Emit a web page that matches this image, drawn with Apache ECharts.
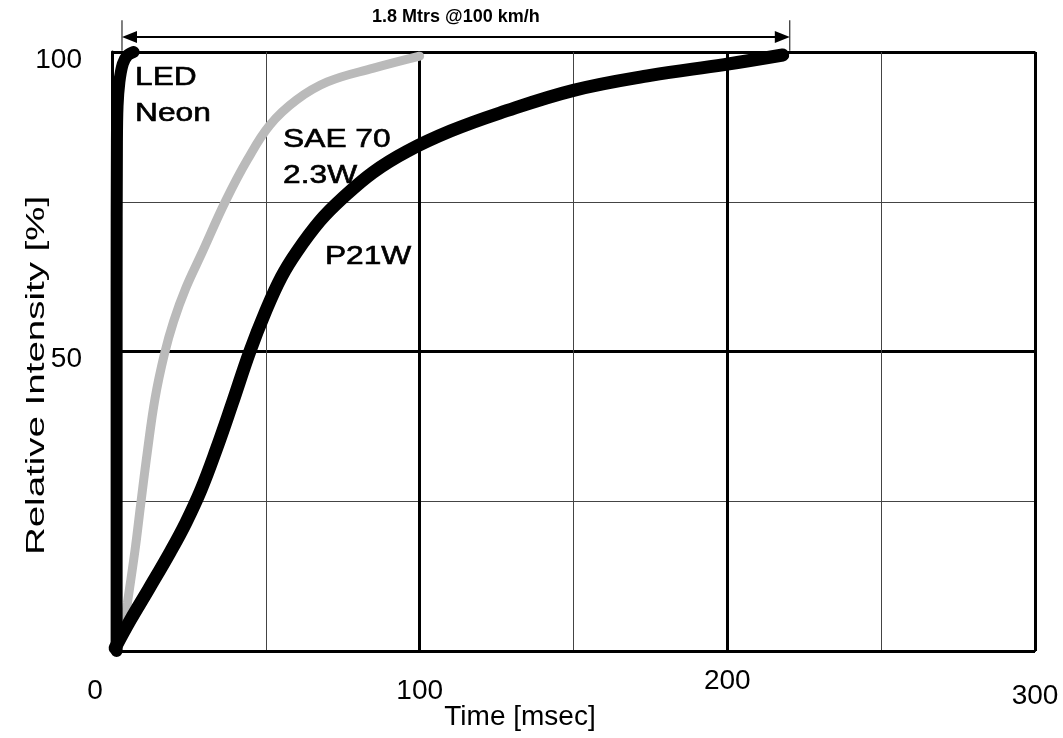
<!DOCTYPE html>
<html>
<head>
<meta charset="utf-8">
<title>Relative Intensity vs Time</title>
<script src="https://cdn.jsdelivr.net/npm/echarts@6/dist/echarts.min.js"></script>
<style>
html, body { margin: 0; padding: 0; background: #fff; }
#main { width: 1063px; height: 738px; }
</style>
</head>
<body>
<div id="main"></div>
<script>
// curves, [time ms, relative intensity %]
var ledNeon = [[1.5,0],[1.5,30],[1.5,60],[1.6,85],[1.8,91],[2.4,95],[3.5,98],[5,99.4],[7,100]];
var sae70 = [[3.5,3],[5,8],[7.5,16.9],[9.3,24.4],[11.5,33.3],[14,42.2],[17,49.5],[20,55],[24,60.6],[29,66.2],[37,75.2],[44,82],[51.3,87.8],[60,92],[70,95],[85,97.3],[100,99.3]];
var p21w = [[1,0.5],[6,5.2],[12,10.4],[19,16.6],[24,21.4],[29,27],[34,33.8],[39,41.2],[44.8,50],[50,56.8],[55,62.4],[60,66.6],[67.6,71.8],[74.7,75.5],[84.8,79.9],[95.8,83.4],[110,86.8],[126,89.8],[150,93.6],[175,96.1],[199,97.9],[218,99.5]];

var xTickLabels = ['0', '100', '200', '300'];
var yTickLabels = ['50', '100'];
var arrowSpan = [3.25, 220.3];   // ms
var arrowText = '1.8 Mtrs @100 km/h';

var FONT = 'Liberation Sans, Arial, sans-serif';

var chart = echarts.init(document.getElementById('main'));

function xLabel(v) {
	var s = String(v);
	if(xTickLabels.indexOf(s) == -1) return '';
	return '{l' + s + '|' + s + '}';
}

function yLabel(v) {
	var s = String(v);
	return yTickLabels.indexOf(s) == -1 ? '' : '{y|' + s + '}';
}

function tickStyle(pad) {
	return { fontSize: 28, fontFamily: FONT, color: '#000', padding: pad };
}

var option = {
	backgroundColor: '#fff',
	animation: false,
	grid: {
		left: 112, right: 28, top: 52, bottom: 87,
		outerBoundsMode: 'none',
		show: true,
		borderColor: '#333',
		borderWidth: 1.5
	},
	xAxis: [{
		type: 'value', min: 0, max: 300, interval: 50,
		name: 'Time [msec]',
		nameLocation: 'middle',
		nameGap: 52,
		nameMoveOverlap: false,
		nameTextStyle: { color: '#000', fontSize: 28, fontFamily: FONT, padding: [0, 107, 0, 0] },
		axisLine: { show: true, lineStyle: { color: '#000', width: 2 } },
		axisTick: { show: false },
		axisLabel: {
			margin: 13,
			formatter: xLabel,
			rich: {
				l0: tickStyle([13, 34, 0, 0]),
				l100: tickStyle([13, 0, 0, 0]),
				l200: tickStyle([3, 0, 0, 0]),
				l300: tickStyle([18, 0, 0, 0])
			}
		},
		splitLine: { show: true, lineStyle: { color: '#444', width: 1 } }
	}, {
		type: 'value', min: 0, max: 300, interval: 100,
		position: 'top',
		axisLine: { show: false },
		axisTick: { show: false },
		axisLabel: { show: false },
		splitLine: { show: true, lineStyle: { color: '#000', width: 3 } }
	}],
	yAxis: [{
		type: 'value', min: 0, max: 100, interval: 25,
		axisLine: { show: true, lineStyle: { color: '#000', width: 3 } },
		axisTick: { show: false },
		axisLabel: {
			margin: 30,
			formatter: yLabel,
			rich: {
				y: tickStyle([16, 0, 0, 0])
			}
		},
		splitLine: { show: true, lineStyle: { color: '#444', width: 1 } }
	}, {
		type: 'value', min: 0, max: 100, interval: 50,
		position: 'right',
		axisLine: { show: false },
		axisTick: { show: false },
		axisLabel: { show: false },
		splitLine: { show: true, lineStyle: { color: '#000', width: 3 } }
	}],
	series: [{
		name: 'SAE 70 2.3W',
		type: 'line',
		data: sae70,
		smooth: 0.4,
		showSymbol: false,
		lineStyle: { color: '#bababa', width: 9, cap: 'round' },
		z: 3
	}, {
		name: 'P21W',
		type: 'line',
		data: p21w,
		smooth: 0.4,
		showSymbol: false,
		lineStyle: { color: '#000', width: 13, cap: 'round' },
		z: 4
	}, {
		name: 'LED Neon',
		type: 'line',
		data: ledNeon,
		smooth: 0.3,
		showSymbol: false,
		lineStyle: { color: '#000', width: 12, cap: 'round', join: 'round' },
		z: 5
	}]
};
chart.setOption(option);

// labels and the span arrow, placed through the chart's own scales
function px(x, y) {
	return chart.convertToPixel({ xAxisIndex: 0, yAxisIndex: 0 }, [x, y]);
}

var curveLabels = [
	{ text: 'LED\nNeon', at: [7.5, 98.7] },
	{ text: 'SAE 70\n2.3W', at: [55.6, 88.3] },
	{ text: 'P21W', at: [69.2, 68.8] }
];

var graphics = [];
curveLabels.forEach(function(l) {
	var p = px(l.at[0], l.at[1]);
	graphics.push({
		type: 'text', x: p[0], y: p[1], z: 10, scaleX: 1.22,
		style: { text: l.text, fontSize: 26, fontFamily: FONT, fill: '#000', stroke: '#000', lineWidth: 0.6, lineHeight: 36, verticalAlign: 'top', align: 'left' }
	});
});

// y axis title, stretched along its length like the scanned original
var yMid = px(0, 46)[1];
graphics.push({
	type: 'text', x: 37, y: yMid, rotation: Math.PI / 2, scaleX: 1.48,
	style: { text: 'Relative Intensity [%]', fontSize: 26, fontFamily: FONT, fill: '#000', align: 'center', verticalAlign: 'middle' }
});

var a0 = px(arrowSpan[0], 102.5);
var a1 = px(arrowSpan[1], 102.5);
var tickTop = px(0, 105.3)[1];
var tickBot = px(0, 100.2)[1];
var ay = a0[1];
graphics.push(
	{ type: 'line', shape: { x1: a0[0] + 8, y1: ay, x2: a1[0] - 8, y2: ay }, style: { stroke: '#000', lineWidth: 2 } },
	{ type: 'line', shape: { x1: a0[0], y1: tickTop, x2: a0[0], y2: tickBot }, style: { stroke: '#000', lineWidth: 1 } },
	{ type: 'line', shape: { x1: a1[0], y1: tickTop, x2: a1[0], y2: tickBot }, style: { stroke: '#000', lineWidth: 1 } },
	{ type: 'polygon', shape: { points: [[a0[0], ay], [a0[0] + 15, ay - 6], [a0[0] + 15, ay + 6]] }, style: { fill: '#000' } },
	{ type: 'polygon', shape: { points: [[a1[0], ay], [a1[0] - 15, ay - 6], [a1[0] - 15, ay + 6]] }, style: { fill: '#000' } },
	{
		type: 'text', x: (a0[0] + a1[0]) / 2, y: ay - 11,
		style: { text: arrowText, fontSize: 18, fontWeight: 'bold', fontFamily: FONT, fill: '#000', align: 'center', verticalAlign: 'bottom' }
	}
);

chart.setOption({ graphic: graphics });
</script>
</body>
</html>
